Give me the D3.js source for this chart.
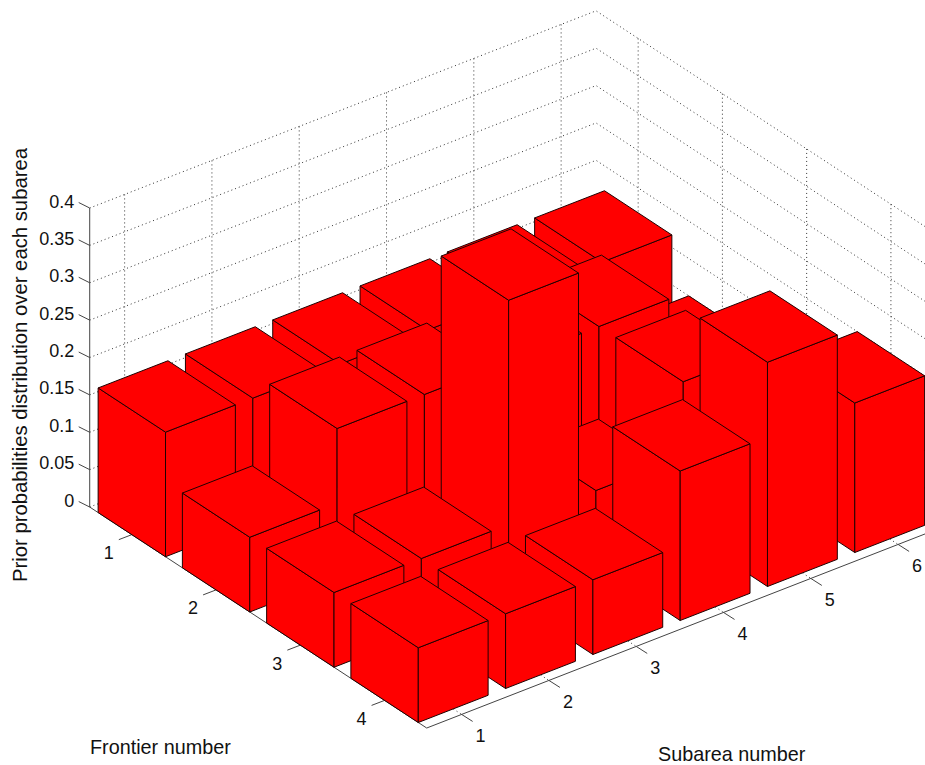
<!DOCTYPE html>
<html>
<head>
<meta charset="utf-8">
<script src="https://cdn.jsdelivr.net/npm/d3@7"></script>
<style>
    html, body { margin: 0; padding: 0; background: #fff; }
    svg { display: block; }
    text { font-family: "Liberation Sans", Arial, sans-serif; fill: #111; }
</style>
</head>
<body>
<div id="chart"></div>
<script>
var frontiers = [1, 2, 3, 4];
var subareas = [1, 2, 3, 4, 5, 6];
var zTicks = [0, 0.05, 0.1, 0.15, 0.2, 0.25, 0.3, 0.35, 0.4];
var zTickLabels = ["0", "0.05", "0.1", "0.15", "0.2", "0.25", "0.3", "0.35", "0.4"];

// one row per frontier, one value per subarea
var frontier1 = [0.1667, 0.1667, 0.1667, 0.1667, 0.1667, 0.1667];
var frontier2 = [0.1, 0.2, 0.2, 0.2, 0.2, 0.1];
var frontier3 = [0.1, 0.1, 0.4, 0.1, 0.2, 0.1];
var frontier4 = [0.1, 0.1, 0.1, 0.2, 0.3, 0.2];
var values = [frontier1, frontier2, frontier3, frontier4];

var width = 925, height = 765;
var sMin = 0.6, sMax = 6.4, fMin = 0.5, fMax = 4.5;
var halfBar = 0.4;

var svg = d3.select("#chart")
    .append("svg")
    .attr("width", width)
    .attr("height", height);

// the view is orthographic, so each data axis is a straight offset on screen
var sx = d3.scaleLinear().domain([0, 1]).range([0, 87.3]);
var sy = d3.scaleLinear().domain([0, 1]).range([0, -34]);
var fx = d3.scaleLinear().domain([0, 1]).range([0, 84.25]);
var fy = d3.scaleLinear().domain([0, 1]).range([0, 55.25]);
var zy = d3.scaleLinear().domain([0, 0.4]).range([0, -299]);

function project(s, f, z) {
    return [-4.8 + sx(s) + fx(f), 499.8 + sy(s) + fy(f) + zy(z)];
}

var line = d3.line();

// grid
var grid = svg.append("g")
    .attr("fill", "none")
    .attr("stroke", "#333")
    .attr("stroke-width", 1)
    .attr("stroke-dasharray", "1 3");

zTicks.forEach(function (z) {
    grid.append("path").attr("d", line([project(sMin, fMin, z), project(sMax, fMin, z), project(sMax, fMax, z)]));
});
subareas.forEach(function (s) {
    grid.append("path").attr("d", line([project(s, fMin, 0.4), project(s, fMin, 0), project(s, fMax, 0)]));
});
frontiers.forEach(function (f) {
    grid.append("path").attr("d", line([project(sMax, f, 0.4), project(sMax, f, 0), project(sMin, f, 0)]));
});

// axes
var axes = svg.append("g")
    .attr("fill", "none")
    .attr("stroke", "#444")
    .attr("stroke-width", 1);

axes.append("path").attr("d", line([project(sMin, fMin, 0.4), project(sMin, fMin, 0), project(sMin, fMax, 0), project(sMax, fMax, 0)]));

var labels = svg.append("g").attr("font-size", 18);

zTicks.forEach(function (z, i) {
    var p = project(sMin, fMin, z);
    axes.append("path").attr("d", line([p, [p[0] - 11, p[1] - 5.5]]));
    labels.append("text")
        .attr("x", p[0] - 15.5)
        .attr("y", p[1] - 0.5)
        .attr("text-anchor", "end")
        .text(zTickLabels[i]);
});

frontiers.forEach(function (f) {
    var p = project(sMin, f, 0);
    axes.append("path").attr("d", line([p, [p[0] - 13, p[1] + 5]]));
    labels.append("text")
        .attr("x", p[0] - 23)
        .attr("y", p[1] + 24.5)
        .attr("text-anchor", "middle")
        .text(f);
});

subareas.forEach(function (s) {
    var p = project(s, fMax, 0);
    axes.append("path").attr("d", line([p, [p[0] + 11, p[1] + 7]]));
    labels.append("text")
        .attr("x", p[0] + 19)
        .attr("y", p[1] + 27.5)
        .attr("text-anchor", "middle")
        .text(s);
});

// bars, back to front
var cells = [];
frontiers.forEach(function (f, i) {
    subareas.slice().reverse().forEach(function (s) {
        cells.push({ f: f, s: s, z: values[i][s - 1] });
    });
});

var bars = svg.append("g")
    .selectAll("g")
    .data(cells)
    .join("g")
    .attr("fill", "#ff0000")
    .attr("stroke", "#200000")
    .attr("stroke-width", 1)
    .attr("stroke-linejoin", "round");

function corners(d, z) {
    return {
        left: project(d.s - halfBar, d.f - halfBar, z),
        front: project(d.s - halfBar, d.f + halfBar, z),
        right: project(d.s + halfBar, d.f + halfBar, z),
        back: project(d.s + halfBar, d.f - halfBar, z)
    };
}

bars.append("path").attr("d", function (d) {
    var t = corners(d, d.z), b = corners(d, 0);
    return line([t.left, t.front, b.front, b.left]) + "Z";
});
bars.append("path").attr("d", function (d) {
    var t = corners(d, d.z), b = corners(d, 0);
    return line([t.front, t.right, b.right, b.front]) + "Z";
});
bars.append("path").attr("d", function (d) {
    var t = corners(d, d.z);
    return line([t.left, t.back, t.right, t.front]) + "Z";
});

// titles
svg.append("text")
    .attr("x", 90).attr("y", 754)
    .attr("font-size", 19.8)
    .text("Frontier number");

svg.append("text")
    .attr("x", 658).attr("y", 760.5)
    .attr("font-size", 19.8)
    .text("Subarea number");

svg.append("text")
    .attr("transform", "translate(26.5,365) rotate(-90)")
    .attr("text-anchor", "middle")
    .attr("font-size", 20.3)
    .text("Prior probabilities distribution over each subarea");
</script>
</body>
</html>
